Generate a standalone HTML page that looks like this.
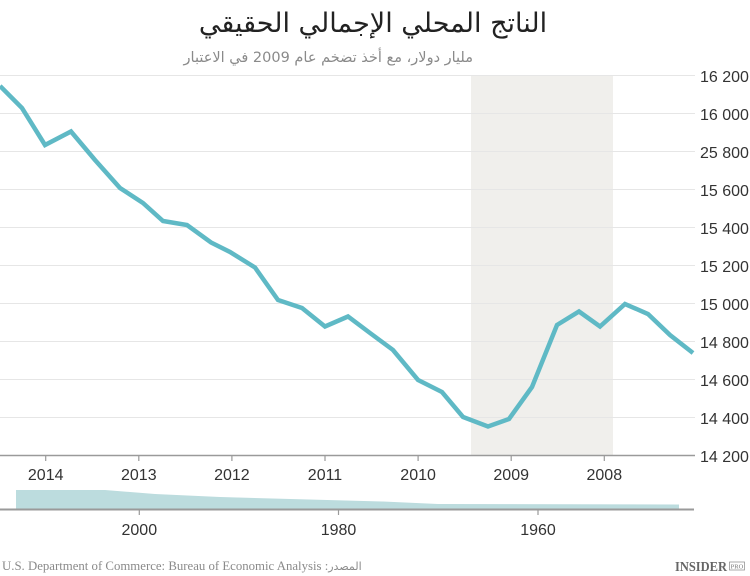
<!DOCTYPE html>
<html><head><meta charset="utf-8"><style>
html,body{margin:0;padding:0;background:#fff;width:750px;height:576px;overflow:hidden}
svg{display:block}
</style></head><body>
<svg width="750" height="576" viewBox="0 0 750 576" xmlns="http://www.w3.org/2000/svg">
<text x="373" y="32" text-anchor="middle" font-family="'DejaVu Sans', sans-serif" font-size="27" fill="#222" direction="rtl">الناتج المحلي الإجمالي الحقيقي</text>
<text x="473" y="62" text-anchor="start" font-family="'DejaVu Sans', sans-serif" font-size="14.5" fill="#8a8a8a" direction="rtl">مليار دولار، مع أخذ تضخم عام 2009 في الاعتبار</text>
<rect x="471" y="75" width="142" height="380" fill="#f0efec"/>
<g stroke="#e6e6e6" stroke-width="1">
<line x1="0" y1="75.5" x2="695" y2="75.5"/>
<line x1="0" y1="113.5" x2="695" y2="113.5"/>
<line x1="0" y1="151.5" x2="695" y2="151.5"/>
<line x1="0" y1="189.5" x2="695" y2="189.5"/>
<line x1="0" y1="227.5" x2="695" y2="227.5"/>
<line x1="0" y1="265.5" x2="695" y2="265.5"/>
<line x1="0" y1="303.5" x2="695" y2="303.5"/>
<line x1="0" y1="341.5" x2="695" y2="341.5"/>
<line x1="0" y1="379.5" x2="695" y2="379.5"/>
<line x1="0" y1="417.5" x2="695" y2="417.5"/>
</g>
<g font-family="'Liberation Sans', sans-serif" font-size="16" fill="#333">
<text x="700" y="82">16 200</text>
<text x="700" y="120">16 000</text>
<text x="700" y="158">25 800</text>
<text x="700" y="196">15 600</text>
<text x="700" y="234">15 400</text>
<text x="700" y="272">15 200</text>
<text x="700" y="310">15 000</text>
<text x="700" y="348">14 800</text>
<text x="700" y="386">14 600</text>
<text x="700" y="424">14 400</text>
<text x="700" y="462">14 200</text>
</g>
<line x1="0" y1="455.5" x2="695" y2="455.5" stroke="#9a9a9a" stroke-width="1.5"/>
<g stroke="#9a9a9a" stroke-width="1.2">
<line x1="45.7" y1="455" x2="45.7" y2="461"/>
<line x1="138.8" y1="455" x2="138.8" y2="461"/>
<line x1="231.9" y1="455" x2="231.9" y2="461"/>
<line x1="325" y1="455" x2="325" y2="461"/>
<line x1="418.1" y1="455" x2="418.1" y2="461"/>
<line x1="511.2" y1="455" x2="511.2" y2="461"/>
<line x1="604.3" y1="455" x2="604.3" y2="461"/>
</g>
<g font-family="'Liberation Sans', sans-serif" font-size="16" fill="#333" text-anchor="middle">
<text x="45.7" y="480">2014</text>
<text x="138.8" y="480">2013</text>
<text x="231.9" y="480">2012</text>
<text x="325" y="480">2011</text>
<text x="418.1" y="480">2010</text>
<text x="511.2" y="480">2009</text>
<text x="604.3" y="480">2008</text>
</g>
<polyline fill="none" stroke="#5fb9c5" stroke-width="4.5" stroke-linejoin="miter" points="0,86 22,108 45,145 71,131.5 95,160 120,188 143,203 163,221 187,225 211,242.5 230,252 255,267.5 278,300 302,308 325,326.5 348,316.5 370,333 393,350 418,380 442,392 463,417 488,426.5 509,419 532,387 557,325 579,311.5 600,326.5 625,304 648,314 670,335 693,353"/>
<path d="M16,509 L16,490 L105,490 L155,494 L220,497 L383,501.5 L438,504 L679,504.5 L679,509 Z" fill="#bcdcde"/>
<line x1="0" y1="509.5" x2="694" y2="509.5" stroke="#9a9a9a" stroke-width="2"/>
<g stroke="#9a9a9a" stroke-width="1.2">
<line x1="139.3" y1="509" x2="139.3" y2="515"/>
<line x1="338.5" y1="509" x2="338.5" y2="515"/>
<line x1="538" y1="509" x2="538" y2="515"/>
</g>
<g font-family="'Liberation Sans', sans-serif" font-size="16" fill="#333" text-anchor="middle">
<text x="139.3" y="535">2000</text>
<text x="338.5" y="535">1980</text>
<text x="538" y="535">1960</text>
</g>
<text x="2" y="570" font-family="'Liberation Serif', serif" font-size="12.8" fill="#8a8a8a">U.S. Department of Commerce: Bureau of Economic Analysis :<tspan font-family="'DejaVu Sans', sans-serif" font-size="11">المصدر</tspan></text>
<text x="675" y="571" font-family="'Liberation Serif', serif" font-size="14" font-weight="bold" fill="#666" textLength="52" lengthAdjust="spacingAndGlyphs">INSIDER</text>
<rect x="729.5" y="562" width="15" height="8" fill="none" stroke="#888" stroke-width="0.7"/>
<text x="737" y="568.5" text-anchor="middle" font-family="'Liberation Serif', serif" font-size="6.5" fill="#777">PRO</text>
</svg>
</body></html>
